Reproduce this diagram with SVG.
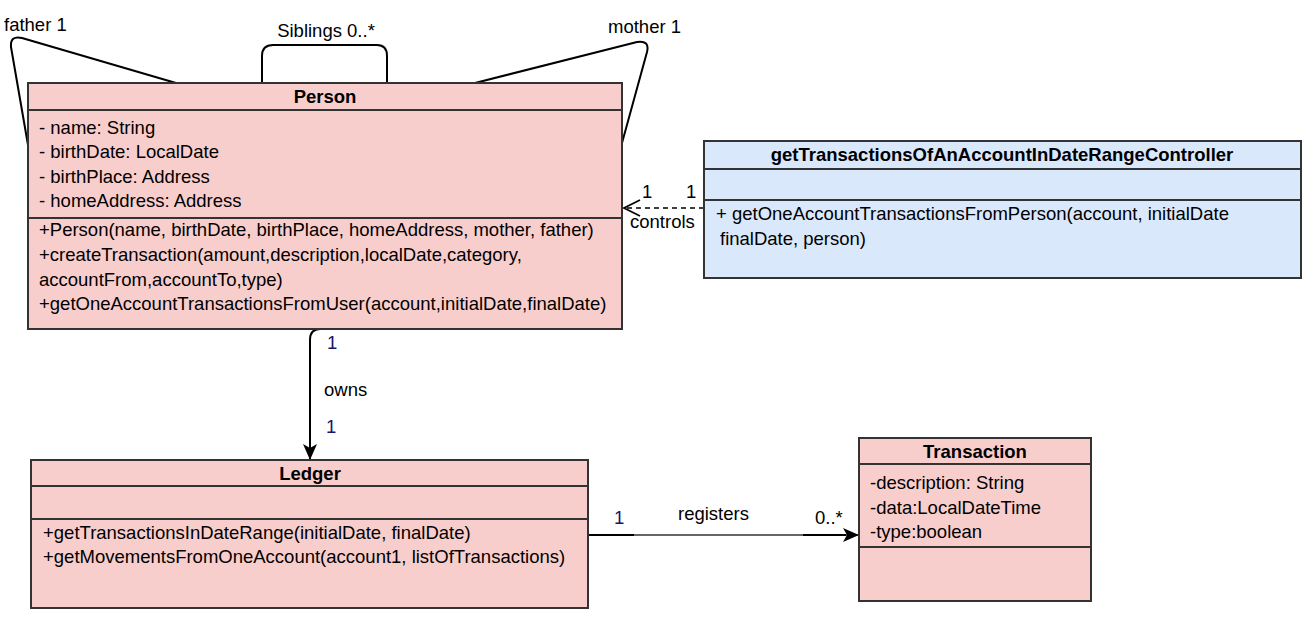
<svg xmlns="http://www.w3.org/2000/svg" width="1311" height="623" viewBox="0 0 1311 623">
  <style>
    text { font-family: "Liberation Sans", Arial, sans-serif; font-size: 18.5px; fill: #000; }
    .title { font-weight: bold; text-anchor: middle; }
    .pink { fill: #f8cecc; stroke: #333; stroke-width: 2; }
    .blue { fill: #dae8fc; stroke: #333; stroke-width: 2; }
    .div { stroke: #333; stroke-width: 2; fill: none; }
    .edge { fill: none; stroke: #000; stroke-width: 2; }
    .navy { fill: #14146b; }
  </style>
  <defs>
    <marker id="block" viewBox="0 0 16 14" refX="15" refY="7" markerWidth="16" markerHeight="14" markerUnits="userSpaceOnUse" orient="auto">
      <path d="M0,0 L16,7 L0,14 L4,7 Z" fill="#000"/>
    </marker>
    <marker id="open" viewBox="0 0 18 18" refX="17" refY="9" markerWidth="18" markerHeight="18" markerUnits="userSpaceOnUse" orient="auto">
      <path d="M1,1 L17,9 L1,17" fill="none" stroke="#000" stroke-width="1.6"/>
    </marker>
  </defs>

  <!-- associations -->
  <g id="connectors">
    <!-- father: Person to itself -->
    <path class="edge" d="M176,83 L22,38 Q10,35 11,47 L28,145"/>
    <!-- siblings loop -->
    <path class="edge" d="M262,83 L262,56 Q262,45 273,45 L377,45 Q387,45 387,56 L387,83"/>
    <!-- mother: Person to itself -->
    <path class="edge" d="M475,83 L637,42 Q650,40 647,52 L622,143"/>
    <!-- controller dependency -->
    <line x1="704" y1="208" x2="624" y2="208" stroke="#000" stroke-width="1.6" stroke-dasharray="5,4" marker-end="url(#open)"/>
    <!-- owns -->
    <path class="edge" d="M320,329 Q310,329 310,340 L310,459" marker-end="url(#block)"/>
    <!-- registers -->
    <line x1="588" y1="535" x2="858" y2="535" stroke="#333" stroke-width="1.6" marker-end="url(#block)"/>
    <line x1="588" y1="535" x2="634" y2="535" stroke="#000" stroke-width="2.2"/>
    <line x1="803" y1="535" x2="846" y2="535" stroke="#000" stroke-width="2.2"/>

    <text x="4" y="31">father 1</text>
    <text x="326" y="37" text-anchor="middle">Siblings 0..*</text>
    <text x="608" y="33">mother 1</text>
    <text x="642" y="198">1</text>
    <text x="686" y="198">1</text>
    <text x="630" y="228">controls</text>
    <text x="327" y="349" class="navy">1</text>
    <text x="324" y="396">owns</text>
    <text x="326" y="433" class="navy">1</text>
    <text x="614" y="524" class="navy">1</text>
    <text x="678" y="520">registers</text>
    <text x="815" y="524">0..*</text>
  </g>

  <g id="person">
    <rect class="pink" x="28" y="83" width="594" height="246"/>
    <line class="div" x1="28" y1="110" x2="622" y2="110"/>
    <line class="div" x1="28" y1="218" x2="622" y2="218"/>
    <text class="title" x="325" y="103">Person</text>
    <text x="39" y="134">- name: String</text>
    <text x="39" y="158">- birthDate: LocalDate</text>
    <text x="39" y="183">- birthPlace: Address</text>
    <text x="39" y="207">- homeAddress: Address</text>
    <text x="39" y="236">+Person(name, birthDate, birthPlace, homeAddress, mother, father)</text>
    <text x="39" y="261">+createTransaction(amount,description,localDate,category,</text>
    <text x="39" y="286">accountFrom,accountTo,type)</text>
    <text x="39" y="310">+getOneAccountTransactionsFromUser(account,initialDate,finalDate)</text>
  </g>

  <g id="controller">
    <rect class="blue" x="704" y="141" width="597" height="137"/>
    <line class="div" x1="704" y1="169" x2="1301" y2="169"/>
    <line class="div" x1="704" y1="200" x2="1301" y2="200"/>
    <text class="title" x="1002" y="161">getTransactionsOfAnAccountInDateRangeController</text>
    <text x="716" y="220">+ getOneAccountTransactionsFromPerson(account, initialDate</text>
    <text x="720" y="245">finalDate, person)</text>
  </g>

  <g id="ledger">
    <rect class="pink" x="31" y="460" width="557" height="148"/>
    <line class="div" x1="31" y1="486" x2="588" y2="486"/>
    <line class="div" x1="31" y1="519" x2="588" y2="519"/>
    <text class="title" x="310" y="480">Ledger</text>
    <text x="43" y="539">+getTransactionsInDateRange(initialDate, finalDate)</text>
    <text x="43" y="563">+getMovementsFromOneAccount(account1, listOfTransactions)</text>
  </g>

  <g id="transaction">
    <rect class="pink" x="859" y="438" width="232" height="163"/>
    <line class="div" x1="859" y1="464" x2="1091" y2="464"/>
    <line class="div" x1="859" y1="547" x2="1091" y2="547"/>
    <text class="title" x="975" y="458">Transaction</text>
    <text x="870" y="489">-description: String</text>
    <text x="870" y="514">-data:LocalDateTime</text>
    <text x="870" y="538">-type:boolean</text>
  </g>
</svg>
